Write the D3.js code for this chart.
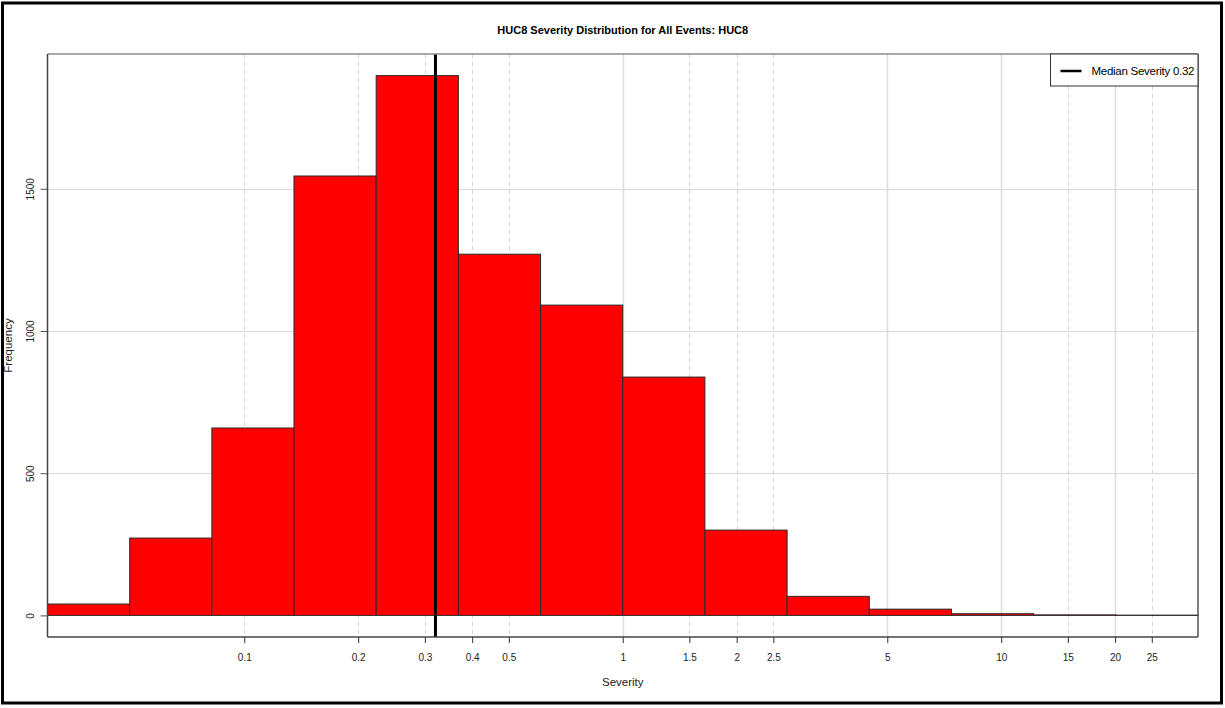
<!DOCTYPE html>
<html>
<head>
<meta charset="utf-8">
<script src="https://cdn.jsdelivr.net/npm/d3@7"></script>
<style>
  body { margin: 0; background: #fff; }
  svg { font-family: "Liberation Sans", Arial, sans-serif; }
</style>
</head>
<body>
<svg id="chart" width="1225" height="708"></svg>
<script>
const binEdges = [0.0302, 0.0498, 0.0821, 0.1353, 0.2231, 0.3679, 0.6065, 1.0, 1.6487, 2.7183, 4.4817, 7.3891, 12.1825, 20.0855, 33.1155];
const counts = [40, 272, 659, 1545, 1898, 1270, 1091, 838, 300, 67, 22, 6, 2, 1];
const xTicks = [0.1, 0.2, 0.3, 0.4, 0.5, 1, 1.5, 2, 2.5, 5, 10, 15, 20, 25];
const xGridSolid = [1, 5, 10, 20];
const xGridDashed = [0.1, 0.2, 0.3, 0.4, 0.5, 1.5, 2, 2.5, 15, 25];
const yTicks = [0, 500, 1000, 1500];
const medianSeverity = 0.32;

const plotLeft = 47.5, plotRight = 1198, plotTop = 54, plotBottom = 637;

const svg = d3.select("#chart");

svg.append("rect")
  .attr("x", 2.5).attr("y", 3)
  .attr("width", 1219).attr("height", 700)
  .attr("fill", "none")
  .attr("stroke", "#000")
  .attr("stroke-width", 3);

const x = d3.scaleLog()
  .domain([binEdges[0], binEdges[binEdges.length - 1]])
  .range([plotLeft, plotRight]);

const yMax = d3.max(counts);
const y = d3.scaleLinear()
  .domain([-0.04 * yMax, yMax * 1.04])
  .range([plotBottom, plotTop]);

const g = svg.append("g");

g.selectAll(".hgrid")
  .data(yTicks)
  .join("line")
    .attr("class", "hgrid")
    .attr("x1", plotLeft).attr("x2", plotRight)
    .attr("y1", d => Math.round(y(d)) + 0.5)
    .attr("y2", d => Math.round(y(d)) + 0.5)
    .attr("stroke", "#d9d9d9");

g.selectAll(".vgrid-solid")
  .data(xGridSolid)
  .join("line")
    .attr("class", "vgrid-solid")
    .attr("x1", d => Math.round(x(d)) + 0.5)
    .attr("x2", d => Math.round(x(d)) + 0.5)
    .attr("y1", plotTop).attr("y2", plotBottom)
    .attr("stroke", "#dcdcdc")
    .attr("stroke-width", 1.5);

g.selectAll(".vgrid-dashed")
  .data(xGridDashed)
  .join("line")
    .attr("class", "vgrid-dashed")
    .attr("x1", d => Math.round(x(d)) + 0.5)
    .attr("x2", d => Math.round(x(d)) + 0.5)
    .attr("y1", plotTop).attr("y2", plotBottom)
    .attr("stroke", "#d6d6d6")
    .attr("stroke-dasharray", "4,4");

const bins = counts.map((c, i) => ({ lo: binEdges[i], hi: binEdges[i + 1], value: c }));

g.selectAll(".bar")
  .data(bins)
  .join("rect")
    .attr("class", "bar")
    .attr("x", d => x(d.lo))
    .attr("width", d => x(d.hi) - x(d.lo))
    .attr("y", d => y(d.value))
    .attr("height", d => y(0) - y(d.value))
    .attr("fill", "#ff0000")
    .attr("stroke", "#2b2b2b")
    .attr("stroke-width", 1);

g.append("line")
  .attr("x1", x(medianSeverity)).attr("x2", x(medianSeverity))
  .attr("y1", plotTop).attr("y2", plotBottom)
  .attr("stroke", "#000")
  .attr("stroke-width", 3);

// plot box
g.append("line").attr("x1", plotLeft).attr("x2", plotRight).attr("y1", plotTop).attr("y2", plotTop)
  .attr("stroke", "#8c8c8c").attr("stroke-width", 1.5);
g.append("line").attr("x1", plotLeft).attr("x2", plotLeft).attr("y1", plotTop).attr("y2", plotBottom)
  .attr("stroke", "#444").attr("stroke-width", 1.5);
g.append("line").attr("x1", plotRight).attr("x2", plotRight).attr("y1", plotTop).attr("y2", plotBottom)
  .attr("stroke", "#555").attr("stroke-width", 1.5);
g.append("line").attr("x1", plotLeft).attr("x2", plotRight).attr("y1", plotBottom).attr("y2", plotBottom)
  .attr("stroke", "#444").attr("stroke-width", 1.5);

const xAxis = g.append("g")
  .attr("transform", `translate(0,${plotBottom})`)
  .call(d3.axisBottom(x).tickValues(xTicks).tickFormat(d3.format("")).tickSize(6).tickPadding(11));
xAxis.select(".domain").remove();
xAxis.selectAll(".tick line").attr("stroke", "#333");
xAxis.selectAll(".tick text").attr("font-size", 10).attr("fill", "#222")
  .attr("font-family", "Liberation Sans, Arial, sans-serif");

const yAxis = g.append("g")
  .attr("transform", `translate(${plotLeft},0)`)
  .call(d3.axisLeft(y).tickValues(yTicks).tickSize(7).tickFormat(d3.format("d")));
yAxis.select(".domain").remove();
yAxis.selectAll(".tick line").attr("stroke", "#555");
yAxis.selectAll(".tick text")
  .attr("font-size", 10).attr("fill", "#222")
  .attr("font-family", "Liberation Sans, Arial, sans-serif")
  .attr("text-anchor", "middle")
  .attr("x", null).attr("dy", null)
  .attr("transform", "translate(-14,0) rotate(-90)");

svg.append("text")
  .attr("x", (plotLeft + plotRight) / 2).attr("y", 34)
  .attr("text-anchor", "middle")
  .attr("font-size", 11).attr("font-weight", "bold")
  .text("HUC8 Severity Distribution for All Events: HUC8");

svg.append("text")
  .attr("x", (plotLeft + plotRight) / 2).attr("y", 686)
  .attr("text-anchor", "middle")
  .attr("font-size", 11.5).attr("fill", "#222")
  .text("Severity");

svg.append("text")
  .attr("transform", `translate(12,${(plotTop + plotBottom) / 2}) rotate(-90)`)
  .attr("text-anchor", "middle")
  .attr("font-size", 11.5).attr("fill", "#222")
  .text("Frequency");

const legend = svg.append("g").attr("transform", "translate(1050.5,54)");
legend.append("rect")
  .attr("width", plotRight - 1050.5).attr("height", 32)
  .attr("fill", "#fff")
  .attr("stroke", "#333");
legend.append("line")
  .attr("x1", 10).attr("x2", 31)
  .attr("y1", 17).attr("y2", 17)
  .attr("stroke", "#000").attr("stroke-width", 2.5);
legend.append("text")
  .attr("x", 41).attr("y", 21)
  .attr("font-size", 11.5)
  .attr("textLength", 103)
  .text(`Median Severity ${medianSeverity}`);
</script>
</body>
</html>
